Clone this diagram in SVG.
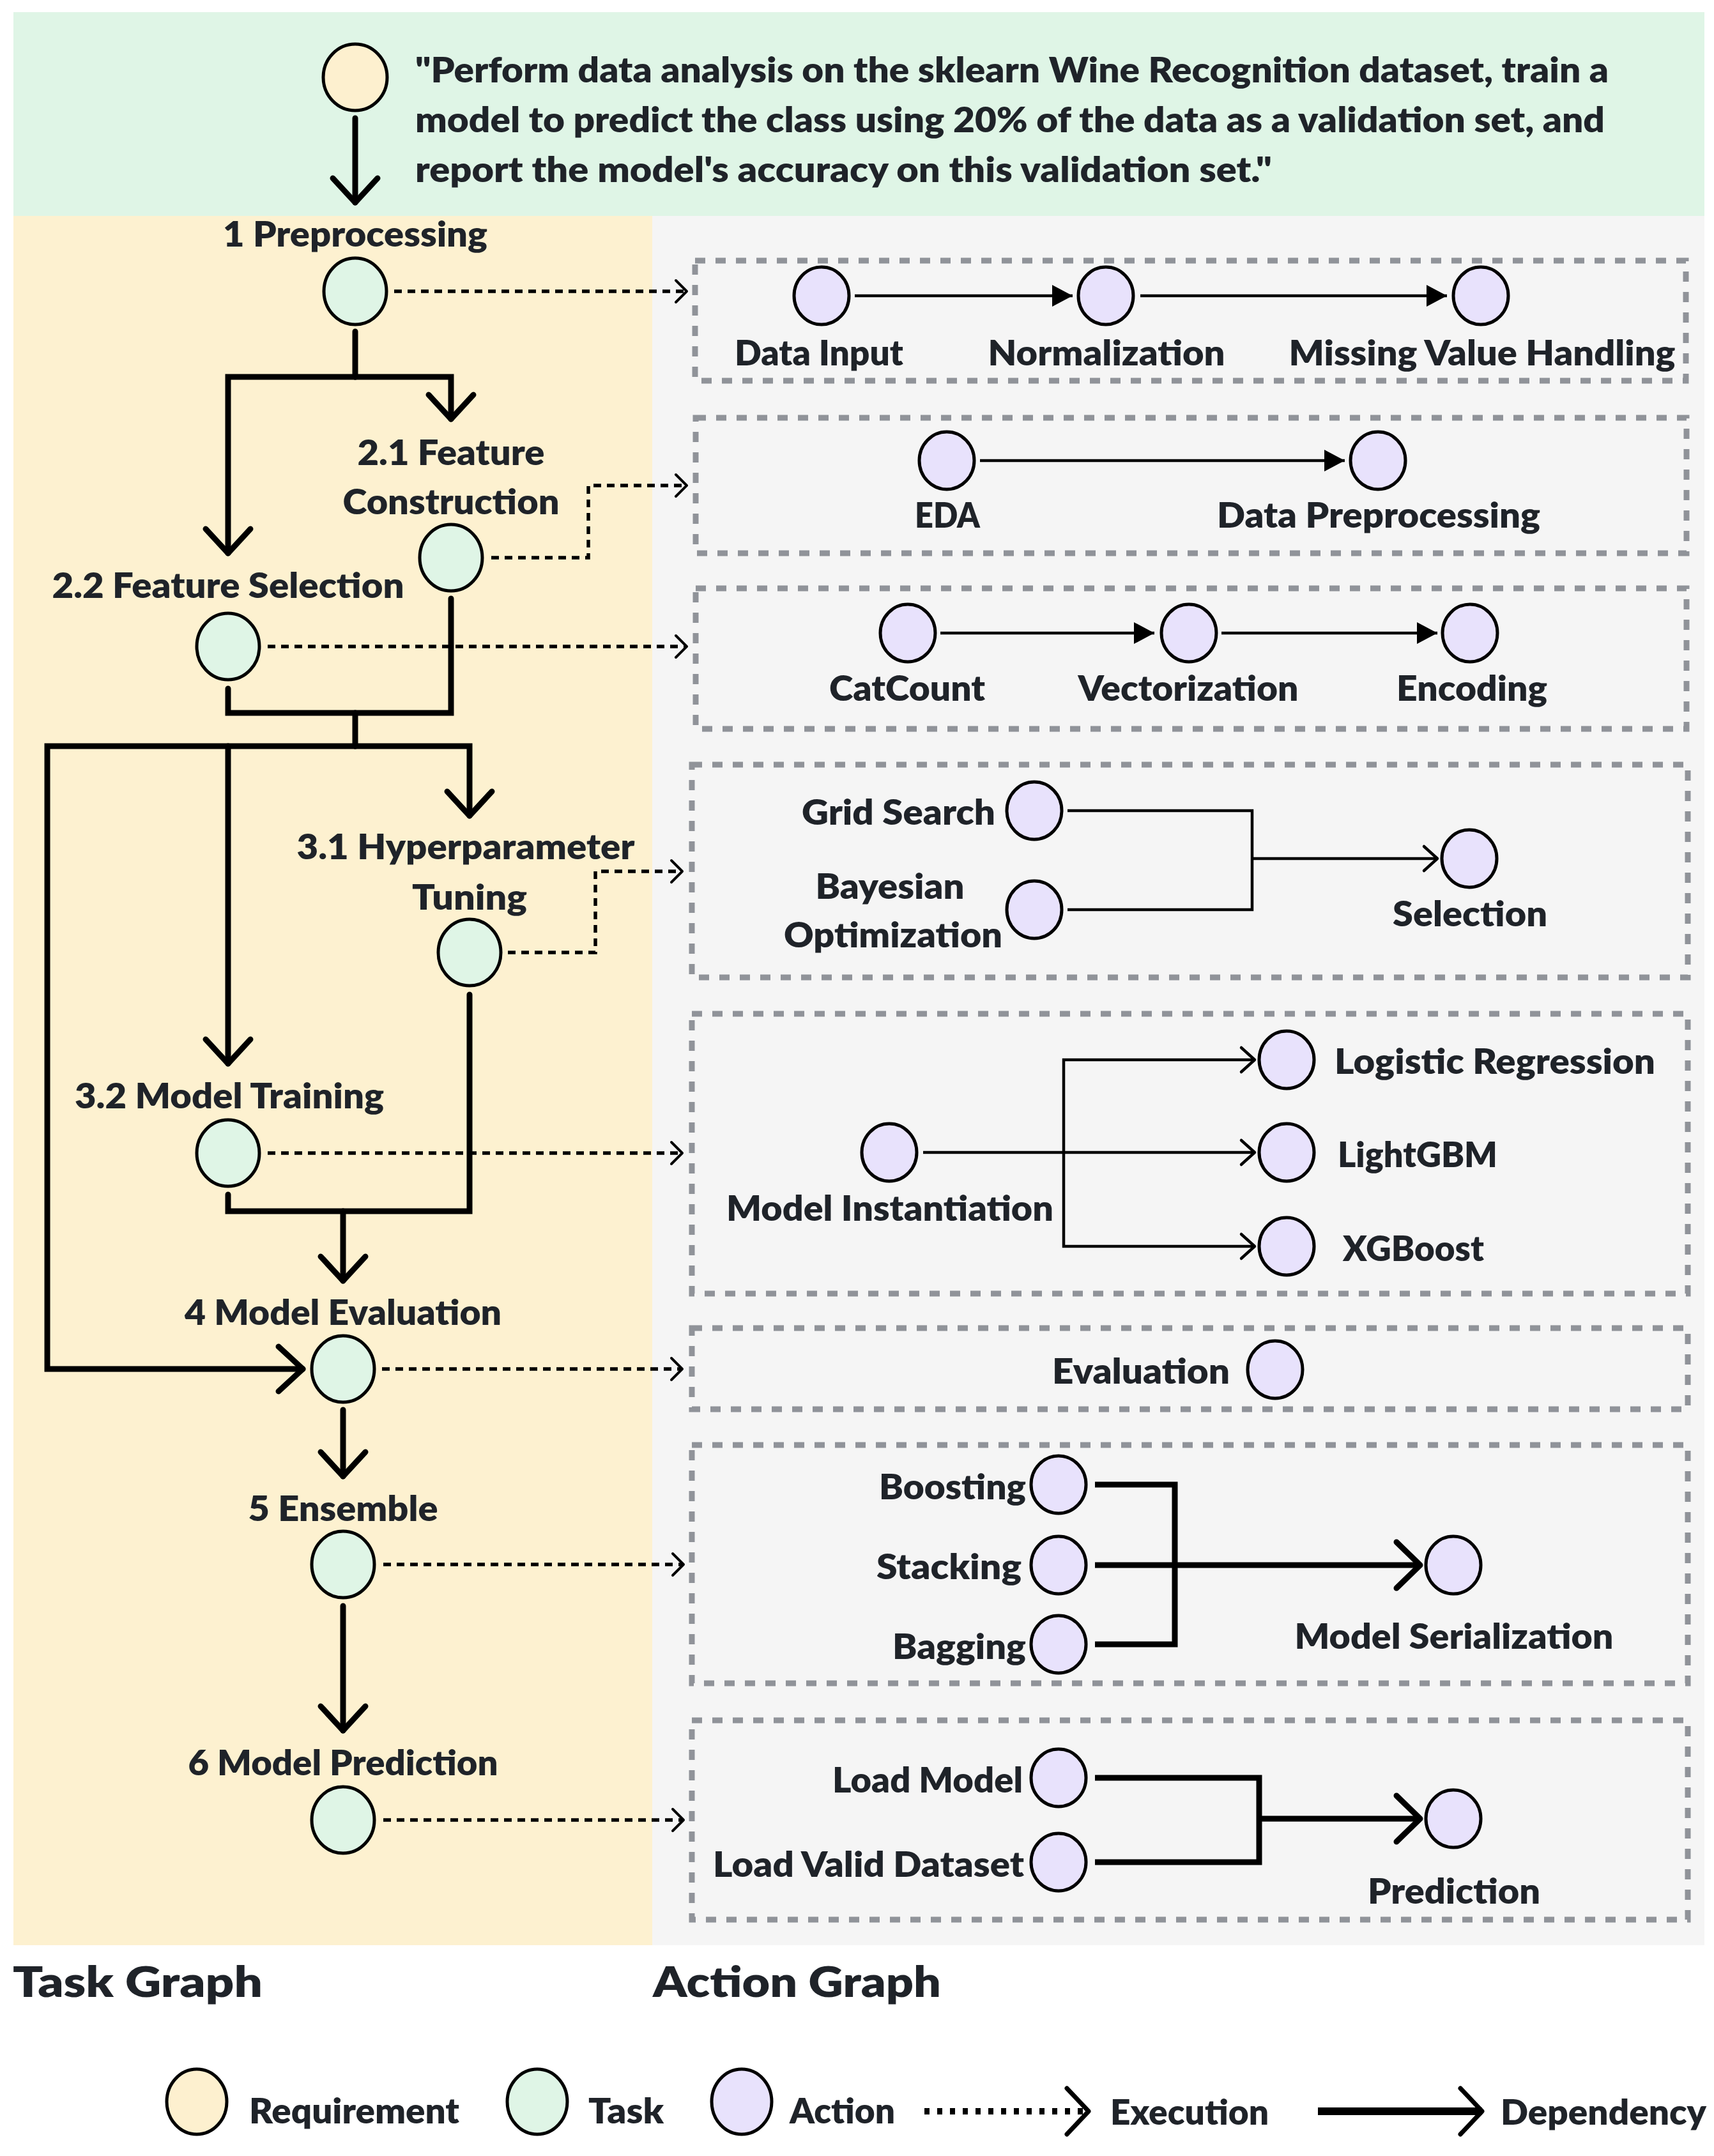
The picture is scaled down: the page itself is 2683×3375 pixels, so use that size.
<svg xmlns="http://www.w3.org/2000/svg" width="2683" height="3375" viewBox="0 0 2683 3375">
<defs>
<style>
.t{font-family:Lato,"Noto Sans","DejaVu Sans",sans-serif;font-weight:800;font-size:54px;fill:#1f2329}
.m{text-anchor:middle}
.e{text-anchor:end}
.ttl{font-size:66px}
.req{fill:#fdf0cf;stroke:#000;stroke-width:5}
.task{fill:#dff5e6;stroke:#000;stroke-width:5}
.act{fill:#e8e2fc;stroke:#000;stroke-width:5}
.box{fill:none;stroke:#909399;stroke-width:9;stroke-dasharray:16 16}
.dep{fill:none;stroke:#000;stroke-width:9;stroke-linejoin:miter;stroke-linecap:round}
.exe{fill:none;stroke:#000;stroke-width:5.5;stroke-dasharray:12 9}
.al{fill:none;stroke:#000;stroke-width:4.5}
.ab{fill:none;stroke:#000;stroke-width:9}
.lexe{fill:none;stroke:#000;stroke-width:10;stroke-dasharray:8 12}
.ldep{fill:none;stroke:#000;stroke-width:12}
</style>
<marker id="mDep" markerUnits="userSpaceOnUse" markerWidth="80" markerHeight="80" refX="0" refY="0" orient="auto" overflow="visible"><path d="M-38,-35 L0,0 L-38,35" fill="none" stroke="#000" stroke-width="9" stroke-linecap="round" stroke-linejoin="round"/></marker>
<marker id="mExe" markerUnits="userSpaceOnUse" markerWidth="40" markerHeight="40" refX="0" refY="0" orient="auto" overflow="visible"><path d="M-17,-17 L0,0 L-17,17" fill="none" stroke="#000" stroke-width="4" stroke-linecap="round" stroke-linejoin="round"/></marker>
<marker id="mTri" markerUnits="userSpaceOnUse" markerWidth="40" markerHeight="40" refX="0" refY="0" orient="auto" overflow="visible"><path d="M-32,-17 L0,0 L-32,17 Z" fill="#000"/></marker>
<marker id="mThin" markerUnits="userSpaceOnUse" markerWidth="40" markerHeight="40" refX="0" refY="0" orient="auto" overflow="visible"><path d="M-21,-19 L0,0 L-21,19" fill="none" stroke="#000" stroke-width="4.5" stroke-linecap="round" stroke-linejoin="round"/></marker>
<marker id="mBig" markerUnits="userSpaceOnUse" markerWidth="80" markerHeight="80" refX="0" refY="0" orient="auto" overflow="visible"><path d="M-37,-36 L0,0 L-37,36" fill="none" stroke="#000" stroke-width="9" stroke-linecap="round" stroke-linejoin="round"/></marker>
<marker id="mLeg" markerUnits="userSpaceOnUse" markerWidth="80" markerHeight="80" refX="0" refY="0" orient="auto" overflow="visible"><path d="M-34,-36 L0,0 L-34,36" fill="none" stroke="#000" stroke-width="7" stroke-linecap="round" stroke-linejoin="round"/></marker>
</defs>
<rect x="0" y="0" width="2683" height="3375" fill="#ffffff"/>
<g id="backgrounds">
<rect x="21" y="19" width="2647" height="319" fill="#dff5e6"/>
<rect x="21" y="338" width="1000" height="2707" fill="#fdf1d0"/>
<rect x="1021" y="338" width="1647" height="2707" fill="#f5f5f5"/>
</g>
<g id="action-boxes">
<rect class="box" x="1088" y="408" width="1551" height="188"/>
<rect class="box" x="1089" y="654" width="1551" height="212"/>
<rect class="box" x="1089" y="921" width="1551" height="220"/>
<rect class="box" x="1083" y="1197" width="1559" height="333"/>
<rect class="box" x="1083" y="1587" width="1559" height="438"/>
<rect class="box" x="1083" y="2079" width="1559" height="127"/>
<rect class="box" x="1083" y="2262" width="1559" height="373"/>
<rect class="box" x="1083" y="2693" width="1559" height="312"/>
</g>
<g id="connectors">
<path class="dep" d="M556,185 V317" marker-end="url(#mDep)"/>
<path class="dep" d="M556,519 V590"/>
<path class="dep" d="M556,590 H357 V866" marker-end="url(#mDep)"/>
<path class="dep" d="M556,590 H706 V656" marker-end="url(#mDep)"/>
<path class="dep" d="M706,937 V1116 H357 V1078"/>
<path class="dep" d="M556,1116 V1168"/>
<path class="dep" d="M556,1168 H74 V2143 H474" marker-end="url(#mDep)"/>
<path class="dep" d="M357,1168 V1665" marker-end="url(#mDep)"/>
<path class="dep" d="M556,1168 H735 V1277" marker-end="url(#mDep)"/>
<path class="dep" d="M735,1557 V1896 H357 V1870"/>
<path class="dep" d="M537,1896 V2005" marker-end="url(#mDep)"/>
<path class="dep" d="M537,2207 V2311" marker-end="url(#mDep)"/>
<path class="dep" d="M537,2514 V2709" marker-end="url(#mDep)"/>
<path class="exe" d="M617,456 H1075" marker-end="url(#mExe)"/>
<path class="exe" d="M769,873 H921 V760 H1075" marker-end="url(#mExe)"/>
<path class="exe" d="M419,1012 H1075" marker-end="url(#mExe)"/>
<path class="exe" d="M795,1491 H932 V1364 H1068" marker-end="url(#mExe)"/>
<path class="exe" d="M419,1805 H1068" marker-end="url(#mExe)"/>
<path class="exe" d="M598,2143 H1068" marker-end="url(#mExe)"/>
<path class="exe" d="M600,2449 H1070" marker-end="url(#mExe)"/>
<path class="exe" d="M600,2849 H1070" marker-end="url(#mExe)"/>
<path class="al" d="M1338,463 H1679" marker-end="url(#mTri)"/>
<path class="al" d="M1785,463 H2265" marker-end="url(#mTri)"/>
<path class="al" d="M1534,721 H2105" marker-end="url(#mTri)"/>
<path class="al" d="M1472,991 H1807" marker-end="url(#mTri)"/>
<path class="al" d="M1912,991 H2250" marker-end="url(#mTri)"/>
<path class="al" d="M1671,1269 H1960 V1424 H1671"/>
<path class="al" d="M1960,1344 H2250" marker-end="url(#mThin)"/>
<path class="al" d="M1445,1804 H1964" marker-end="url(#mThin)"/>
<path class="al" d="M1665,1804 V1659 H1964" marker-end="url(#mThin)"/>
<path class="al" d="M1665,1804 V1951 H1964" marker-end="url(#mThin)"/>
<path class="ab" d="M1714,2324 H1839 V2574 H1714"/>
<path class="ab" d="M1714,2450 H2223" marker-end="url(#mBig)"/>
<path class="ab" d="M1714,2783 H1971 V2915 H1714"/>
<path class="ab" d="M1971,2847 H2223" marker-end="url(#mBig)"/>
</g>
<g id="requirement">
<ellipse class="req" cx="556" cy="121" rx="50" ry="52"/>
<text class="t" x="650" y="129" textLength="1868" lengthAdjust="spacingAndGlyphs">"Perform data analysis on the sklearn Wine Recognition dataset, train a</text>
<text class="t" x="650" y="207" textLength="1862" lengthAdjust="spacingAndGlyphs">model to predict the class using 20% of the data as a validation set, and</text>
<text class="t" x="650" y="285" textLength="1341" lengthAdjust="spacingAndGlyphs">report the model's accuracy on this validation set."</text>
</g>
<g id="task-1"><ellipse class="task" cx="556" cy="456" rx="49" ry="52"/><text class="t m" x="556" y="386" textLength="414" lengthAdjust="spacingAndGlyphs">1 Preprocessing</text></g>
<g id="task-2-1"><ellipse class="task" cx="706" cy="873" rx="49" ry="52"/><text class="t m" x="706" y="728" textLength="293" lengthAdjust="spacingAndGlyphs">2.1 Feature</text><text class="t m" x="706" y="805" textLength="339" lengthAdjust="spacingAndGlyphs">Construction</text></g>
<g id="task-2-2"><ellipse class="task" cx="357" cy="1012" rx="49" ry="52"/><text class="t m" x="357" y="936" textLength="551" lengthAdjust="spacingAndGlyphs">2.2 Feature Selection</text></g>
<g id="task-3-1"><ellipse class="task" cx="735" cy="1491" rx="49" ry="52"/><text class="t m" x="729" y="1345" textLength="529" lengthAdjust="spacingAndGlyphs">3.1 Hyperparameter</text><text class="t m" x="735" y="1424" textLength="180" lengthAdjust="spacingAndGlyphs">Tuning</text></g>
<g id="task-3-2"><ellipse class="task" cx="357" cy="1805" rx="49" ry="52"/><text class="t m" x="359" y="1735" textLength="484" lengthAdjust="spacingAndGlyphs">3.2 Model Training</text></g>
<g id="task-4"><ellipse class="task" cx="537" cy="2143" rx="49" ry="52"/><text class="t m" x="537" y="2074" textLength="496" lengthAdjust="spacingAndGlyphs">4 Model Evaluation</text></g>
<g id="task-5"><ellipse class="task" cx="537" cy="2449" rx="49" ry="52"/><text class="t m" x="537" y="2381" textLength="297" lengthAdjust="spacingAndGlyphs">5 Ensemble</text></g>
<g id="task-6"><ellipse class="task" cx="537" cy="2849" rx="49" ry="52"/><text class="t m" x="537" y="2779" textLength="485" lengthAdjust="spacingAndGlyphs">6 Model Prediction</text></g>
<g id="act-data-input"><ellipse class="act" cx="1286" cy="463" rx="43" ry="45"/><text class="t m" x="1282" y="572" textLength="264" lengthAdjust="spacingAndGlyphs">Data Input</text></g>
<g id="act-normalization"><ellipse class="act" cx="1731" cy="463" rx="43" ry="45"/><text class="t m" x="1732" y="572" textLength="371" lengthAdjust="spacingAndGlyphs">Normalization</text></g>
<g id="act-missing"><ellipse class="act" cx="2318" cy="463" rx="43" ry="45"/><text class="t m" x="2320" y="572" textLength="605" lengthAdjust="spacingAndGlyphs">Missing Value Handling</text></g>
<g id="act-eda"><ellipse class="act" cx="1482" cy="721" rx="43" ry="45"/><text class="t m" x="1483" y="826" textLength="102" lengthAdjust="spacingAndGlyphs">EDA</text></g>
<g id="act-data-prep"><ellipse class="act" cx="2157" cy="721" rx="43" ry="45"/><text class="t m" x="2158" y="826" textLength="506" lengthAdjust="spacingAndGlyphs">Data Preprocessing</text></g>
<g id="act-catcount"><ellipse class="act" cx="1421" cy="991" rx="43" ry="45"/><text class="t m" x="1420" y="1097" textLength="244" lengthAdjust="spacingAndGlyphs">CatCount</text></g>
<g id="act-vectorization"><ellipse class="act" cx="1861" cy="991" rx="43" ry="45"/><text class="t m" x="1860" y="1097" textLength="345" lengthAdjust="spacingAndGlyphs">Vectorization</text></g>
<g id="act-encoding"><ellipse class="act" cx="2301" cy="991" rx="43" ry="45"/><text class="t m" x="2304" y="1097" textLength="236" lengthAdjust="spacingAndGlyphs">Encoding</text></g>
<g id="act-grid"><ellipse class="act" cx="1619" cy="1269" rx="43" ry="45"/><text class="t e" x="1558" y="1291" textLength="303" lengthAdjust="spacingAndGlyphs">Grid Search</text></g>
<g id="act-bayes"><ellipse class="act" cx="1619" cy="1424" rx="43" ry="45"/><text class="t m" x="1393" y="1407" textLength="233" lengthAdjust="spacingAndGlyphs">Bayesian</text><text class="t m" x="1398" y="1483" textLength="342" lengthAdjust="spacingAndGlyphs">Optimization</text></g>
<g id="act-selection"><ellipse class="act" cx="2300" cy="1344" rx="43" ry="45"/><text class="t m" x="2301" y="1450" textLength="242" lengthAdjust="spacingAndGlyphs">Selection</text></g>
<g id="act-model-inst"><ellipse class="act" cx="1392" cy="1804" rx="43" ry="45"/><text class="t m" x="1393" y="1911" textLength="512" lengthAdjust="spacingAndGlyphs">Model Instantiation</text></g>
<g id="act-logreg"><ellipse class="act" cx="2014" cy="1659" rx="43" ry="45"/><text class="t" x="2089" y="1681" textLength="502" lengthAdjust="spacingAndGlyphs">Logistic Regression</text></g>
<g id="act-lightgbm"><ellipse class="act" cx="2014" cy="1804" rx="43" ry="45"/><text class="t" x="2094" y="1827" textLength="250" lengthAdjust="spacingAndGlyphs">LightGBM</text></g>
<g id="act-xgboost"><ellipse class="act" cx="2014" cy="1951" rx="43" ry="45"/><text class="t" x="2102" y="1974" textLength="221" lengthAdjust="spacingAndGlyphs">XGBoost</text></g>
<g id="act-evaluation"><ellipse class="act" cx="1996" cy="2144" rx="43" ry="45"/><text class="t" x="1647" y="2166" textLength="278" lengthAdjust="spacingAndGlyphs">Evaluation</text></g>
<g id="act-boosting"><ellipse class="act" cx="1657" cy="2324" rx="43" ry="45"/><text class="t e" x="1606" y="2347" textLength="230" lengthAdjust="spacingAndGlyphs">Boosting</text></g>
<g id="act-stacking"><ellipse class="act" cx="1657" cy="2450" rx="43" ry="45"/><text class="t e" x="1599" y="2472" textLength="227" lengthAdjust="spacingAndGlyphs">Stacking</text></g>
<g id="act-bagging"><ellipse class="act" cx="1657" cy="2574" rx="43" ry="45"/><text class="t e" x="1606" y="2597" textLength="209" lengthAdjust="spacingAndGlyphs">Bagging</text></g>
<g id="act-serialization"><ellipse class="act" cx="2275" cy="2450" rx="43" ry="45"/><text class="t m" x="2276" y="2581" textLength="499" lengthAdjust="spacingAndGlyphs">Model Serialization</text></g>
<g id="act-load-model"><ellipse class="act" cx="1657" cy="2783" rx="43" ry="45"/><text class="t e" x="1601" y="2806" textLength="298" lengthAdjust="spacingAndGlyphs">Load Model</text></g>
<g id="act-load-valid"><ellipse class="act" cx="1657" cy="2915" rx="43" ry="45"/><text class="t e" x="1603" y="2938" textLength="487" lengthAdjust="spacingAndGlyphs">Load Valid Dataset</text></g>
<g id="act-prediction"><ellipse class="act" cx="2275" cy="2847" rx="43" ry="45"/><text class="t m" x="2276" y="2980" textLength="270" lengthAdjust="spacingAndGlyphs">Prediction</text></g>
<g id="titles">
<text class="t ttl" x="20" y="3126" textLength="391" lengthAdjust="spacingAndGlyphs">Task Graph</text>
<text class="t ttl" x="1022" y="3126" textLength="451" lengthAdjust="spacingAndGlyphs">Action Graph</text>
</g>
<g id="legend">
<ellipse class="req" cx="308" cy="3290" rx="47" ry="51"/>
<text class="t" x="390" y="3324" textLength="329" lengthAdjust="spacingAndGlyphs">Requirement</text>
<ellipse class="task" cx="841" cy="3290" rx="47" ry="51"/>
<text class="t" x="921" y="3324" textLength="118" lengthAdjust="spacingAndGlyphs">Task</text>
<ellipse class="act" cx="1161" cy="3290" rx="47" ry="51"/>
<text class="t" x="1236" y="3324" textLength="165" lengthAdjust="spacingAndGlyphs">Action</text>
<path class="lexe" d="M1447,3305 H1704" marker-end="url(#mLeg)"/>
<text class="t" x="1738" y="3326" textLength="248" lengthAdjust="spacingAndGlyphs">Execution</text>
<path class="ldep" d="M2063,3305 H2320" marker-end="url(#mLeg)"/>
<text class="t" x="2349" y="3326" textLength="322" lengthAdjust="spacingAndGlyphs">Dependency</text>
</g>
</svg>
